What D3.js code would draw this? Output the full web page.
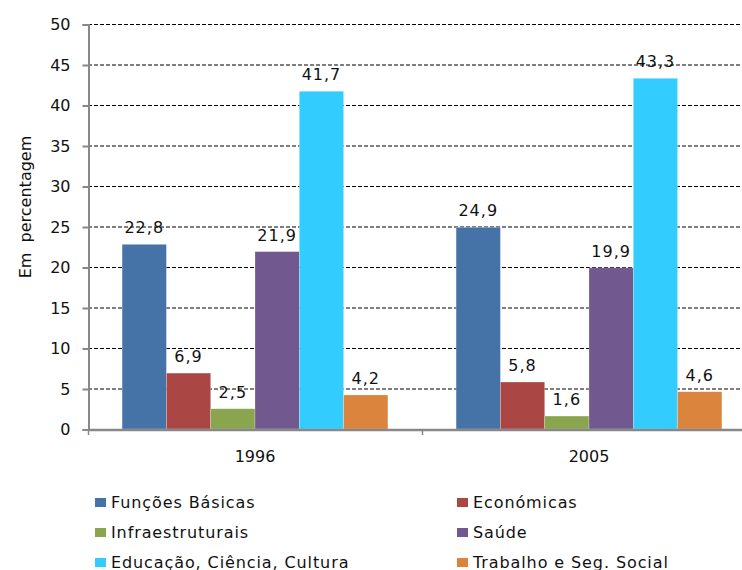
<!DOCTYPE html>
<html>
<head>
<meta charset="utf-8">
<script src="https://cdn.jsdelivr.net/npm/d3@7"></script>
<style>
  body { margin: 0; background: #fff; }
  text { font-family: "DejaVu Sans", Verdana, sans-serif; fill: #111; }
  .grid line { stroke: #000; stroke-dasharray: 4,2; stroke-width: 1.2; }
</style>
</head>
<body>
<div id="chart"></div>
<script>
// data
var years = ["1996", "2005"];
var series = ["Funções Básicas", "Económicas", "Infraestruturais", "Saúde", "Educação, Ciência, Cultura", "Trabalho e Seg. Social"];
var values1996 = [22.8, 6.9, 2.5, 21.9, 41.7, 4.2];
var values2005 = [24.9, 5.8, 1.6, 19.9, 43.3, 4.6];
var colors = ["#4572A7", "#AA4643", "#89A54E", "#71588F", "#33CCFF", "#DB843D"];
var yTicks = [0, 5, 10, 15, 20, 25, 30, 35, 40, 45, 50];

var width = 742, height = 570;
var margin = {left: 88, right: 0, top: 24, bottom: 141};

var svg = d3.select("#chart").append("svg")
  .attr("width", width)
  .attr("height", height);

var y = d3.scaleLinear().domain([0, 50]).range([height - margin.bottom, margin.top]);
var x0 = d3.scaleBand().domain(years).range([margin.left, 756]).paddingInner(0).paddingOuter(0);
var x1 = d3.scaleBand().domain(series).range([0, x0.bandwidth()]).paddingOuter(0.77).paddingInner(0);

// dashed gridlines
svg.append("g").attr("class", "grid")
  .selectAll("line").data(yTicks.filter(d => d > 0)).enter()
  .append("line")
  .attr("x1", margin.left).attr("x2", width)
  .attr("y1", d => y(d) + 0.5).attr("y2", d => y(d) + 0.5);

// bars
var rows = years.map((yr, i) => ({year: yr, vals: i == 0 ? values1996 : values2005}));
var groups = svg.append("g").selectAll("g").data(rows).enter()
  .append("g")
  .attr("transform", d => "translate(" + x0(d.year) + ",0)");

groups.selectAll("rect")
  .data(d => d.vals.map((v, j) => ({k: series[j], v: v, c: colors[j]})))
  .enter().append("rect")
  .attr("x", d => x1(d.k))
  .attr("width", x1.bandwidth())
  .attr("y", d => y(d.v))
  .attr("height", d => y(0) - y(d.v))
  .attr("fill", d => d.c)
  .attr("stroke", "#fff").attr("stroke-opacity", 0.4).attr("stroke-width", 0.6);

groups.selectAll("text.lbl")
  .data(d => d.vals.map((v, j) => ({k: series[j], v: v})))
  .enter().append("text")
  .attr("class", "lbl")
  .attr("x", d => x1(d.k) + x1.bandwidth() / 2)
  .attr("y", d => y(d.v) - 11)
  .attr("text-anchor", "middle")
  .style("font-size", "16px")
  .style("letter-spacing", "1px")
  .text(d => String(d.v).replace(".", ","));

// y axis
var yAxis = d3.axisLeft(y).tickValues(yTicks).tickSize(6).tickPadding(12);
var ga = svg.append("g").attr("transform", "translate(" + (margin.left + 0.5) + ",0.5)").call(yAxis);
ga.select(".domain").attr("stroke", "#888").attr("stroke-width", 2);
ga.selectAll(".tick line").attr("stroke", "#888").attr("stroke-width", 2);
ga.selectAll(".tick text").style("font-size", "16px").attr("fill", "#111");

// x axis
var xAxis = d3.axisBottom(x0).tickSize(0).tickPadding(21);
var gx = svg.append("g").attr("transform", "translate(0," + (y(0) + 0.5) + ")").call(xAxis);
gx.select(".domain").attr("stroke", "#888").attr("stroke-width", 2.5);
gx.selectAll(".tick text").style("font-size", "16px").attr("fill", "#111");
// group separators
svg.append("g").selectAll("line").data(years).enter().append("line")
  .attr("x1", d => x0(d) + 0.5).attr("x2", d => x0(d) + 0.5)
  .attr("y1", y(0)).attr("y2", y(0) + 6)
  .attr("stroke", "#888").attr("stroke-width", 1.5);

// y title
svg.append("text")
  .attr("transform", "translate(31,207) rotate(-90)")
  .attr("text-anchor", "middle")
  .style("font-size", "16px")
  .attr("xml:space", "preserve")
  .text("Em  percentagem");

// legend
var legend = svg.append("g").selectAll("g").data(series).enter()
  .append("g")
  .attr("transform", (d, i) => "translate(" + (i % 2 == 0 ? 95 : 457) + "," + (503 + Math.floor(i / 2) * 30) + ")");
legend.append("rect").attr("x", 0).attr("y", -5).attr("width", 11).attr("height", 9)
  .attr("fill", (d, i) => colors[i]);
legend.append("text").attr("x", 16).attr("y", 5)
  .style("font-size", "16px")
  .style("letter-spacing", "0.9px")
  .text(d => d);
</script>
</body>
</html>
